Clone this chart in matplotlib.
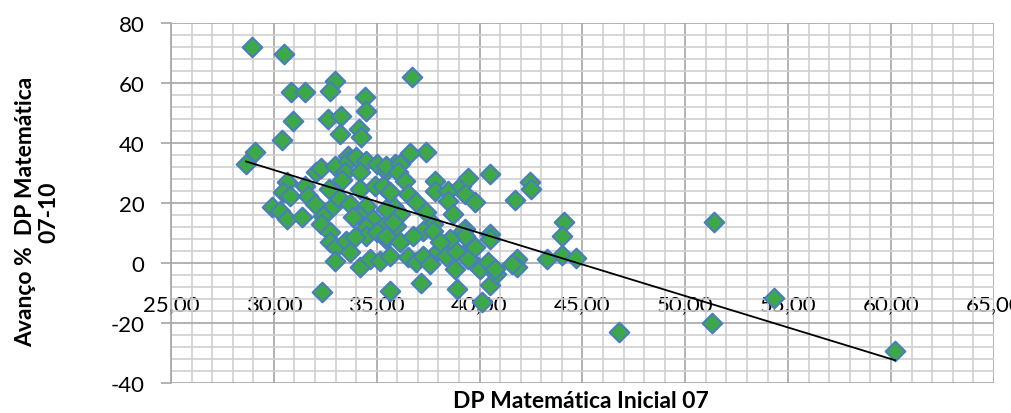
import matplotlib
matplotlib.use('Agg')
import matplotlib.pyplot as plt
from matplotlib.ticker import MultipleLocator, FuncFormatter
import numpy as np

plt.rcParams['font.family'] = ['Lato', 'DejaVu Sans']
plt.rcParams['axes.unicode_minus'] = False

# DP Matemática inicial 07 (x) vs Avanço % 07-10 (y)
dp_inicial = [
    28.93, 30.50, 30.85, 31.50, 32.95, 32.75, 34.45, 34.50, 30.95, 32.65,
    33.25, 33.20, 34.15, 34.25, 30.40, 36.70, 29.10, 28.65, 37.40, 36.60,
    33.60,
    32.07, 32.31, 32.96, 33.60, 34.00, 34.50, 34.99, 35.47, 35.87, 33.45,
    34.17, 30.62, 30.45, 30.78, 31.50, 31.67, 29.89, 30.29, 30.62, 31.35,
    32.00, 32.40, 32.31, 32.88, 33.12, 33.69, 34.17, 34.50, 34.17, 34.82,
    34.50, 34.90, 35.47, 35.80, 35.47, 35.96, 33.85, 32.72, 33.30, 32.70,
    35.47, 36.12, 36.04, 36.36, 35.30, 35.63, 36.52, 36.93, 36.12, 35.80,
    37.41, 37.73, 37.25, 37.82, 37.82, 38.46, 38.46, 38.70, 39.10, 39.43,
    39.27, 39.76, 40.53, 41.70, 42.43, 42.51, 39.27, 40.49, 35.47,
    44.10, 44.00, 43.30, 44.00, 44.70, 41.80, 41.80, 40.50, 38.90, 40.10,
    39.20, 39.40, 39.50, 39.90, 40.60, 40.80,
    32.72, 33.04, 33.53, 33.69, 32.96, 34.17, 34.66, 35.14, 34.50, 35.00,
    35.47, 35.63, 32.32, 35.63, 33.93,
    35.47, 36.12, 36.77, 37.73, 36.52, 36.93, 37.25, 37.57, 37.98, 38.38,
    38.87, 39.27, 39.43, 39.76, 38.79, 37.17, 40.49, 40.00, 40.40, 40.73,
    41.60, 38.54, 38.06,
    46.80, 51.30, 51.40, 54.30, 60.20,
]
avanco = [
    72.0, 69.5, 57.0, 57.0, 60.5, 57.3, 55.3, 50.7, 47.3, 48.0,
    49.0, 43.0, 44.7, 42.0, 41.0, 62.0, 37.0, 33.0, 37.0, 36.8,
    35.7,
    30.2, 31.6, 32.4, 34.1, 35.2, 34.1, 33.0, 30.8, 33.0, 30.2,
    30.2, 26.9, 23.6, 22.4, 25.8, 22.4, 18.6, 17.4, 14.7, 15.2,
    19.7, 15.8, 13.0, 19.1, 21.9, 19.7, 24.7, 19.1, 15.8, 14.7,
    11.9, 25.8, 24.7, 19.1, 13.0, 12.4, 15.2, 10.2, 27.5, 24.5,
    32.4, 33.0, 30.2, 27.4, 25.8, 23.6, 23.0, 20.2, 16.3, 13.6,
    16.9, 13.0, 10.8, 27.4, 24.1, 24.1, 20.8, 16.3, 25.8, 28.2,
    23.0, 20.2, 29.7, 21.0, 26.9, 24.7, 11.3, 9.7, 18.0,
    13.7, 9.0, 1.3, 2.7, 1.7, 1.3, -1.3, -7.3, -8.7, -13.0,
    10.7, 2.3, 4.7, -1.3, -1.3, -3.7,
    6.9, 5.2, 7.4, 3.6, 0.8, -1.4, 1.3, 0.8, 9.1, 10.2,
    8.0, 2.4, -9.8, -9.2, 8.6,
    9.1, 6.9, 9.1, 10.8, 1.9, 0.2, 2.4, -0.3, 4.1, 2.4,
    4.1, 9.1, 1.3, 5.2, -2.0, -6.7, 8.0, -2.0, 0.2, -2.0,
    -0.3, 8.0, 6.9,
    -23.0, -20.0, 13.7, -11.7, -29.5,
]

# linear trendline as drawn in the chart
trend_slope = -2.1
trend_intercept = 94.0

x = np.array(dp_inicial)
y = np.array(avanco)

fig = plt.figure(figsize=(10.12, 4.14), dpi=100)
ax = fig.add_axes([0.169, 0.0725, 0.813, 0.8696])

ax.set_xlim(25, 65)
ax.set_ylim(-40, 80)
ax.xaxis.set_major_locator(MultipleLocator(5))
ax.xaxis.set_minor_locator(MultipleLocator(1))
ax.yaxis.set_major_locator(MultipleLocator(20))
ax.yaxis.set_minor_locator(MultipleLocator(4))
ax.xaxis.set_major_formatter(FuncFormatter(lambda v, p: f'{v:.2f}'.replace('.', ',')))

ax.grid(which='major', color='#a6a6a6', linewidth=1.2, zorder=0)
ax.grid(which='minor', color='#cfcfcf', linewidth=1.2, zorder=0)
ax.set_axisbelow(True)

for side in ['top', 'right', 'bottom']:
    ax.spines[side].set_visible(False)
ax.spines['left'].set_color('#a6a6a6')
ax.spines['left'].set_linewidth(1.2)

ax.tick_params(axis='y', which='major', length=7, width=1.2, color='#a6a6a6',
               labelsize=16, pad=12)
ax.tick_params(axis='y', which='minor', length=0)
ax.tick_params(axis='x', which='both', length=0, labelsize=16, pad=0)
# x tick labels hang just below the zero line, as in the Excel chart
ax.spines['bottom'].set_position(('data', -10.5))

ax.scatter(x, y, marker='D', s=100, facecolor='#3da847', edgecolor='#4a7dc0',
           linewidth=1.5, zorder=3, clip_on=False)

xs = np.array([x.min(), x.max()])
ax.plot(xs, trend_intercept + trend_slope * xs, color='black', linewidth=1.3, zorder=4)

fig.text(0.574, 0.031, 'DP Matemática Inicial 07', ha='center', va='center',
         fontsize=16.5, fontweight='bold')
fig.text(0.037, 0.488, 'Avanço %  DP Matemática\n07-10', ha='center', va='center',
         rotation=90, fontsize=16.5, fontweight='bold', linespacing=1.1)

fig.savefig('out.png', dpi=100)
